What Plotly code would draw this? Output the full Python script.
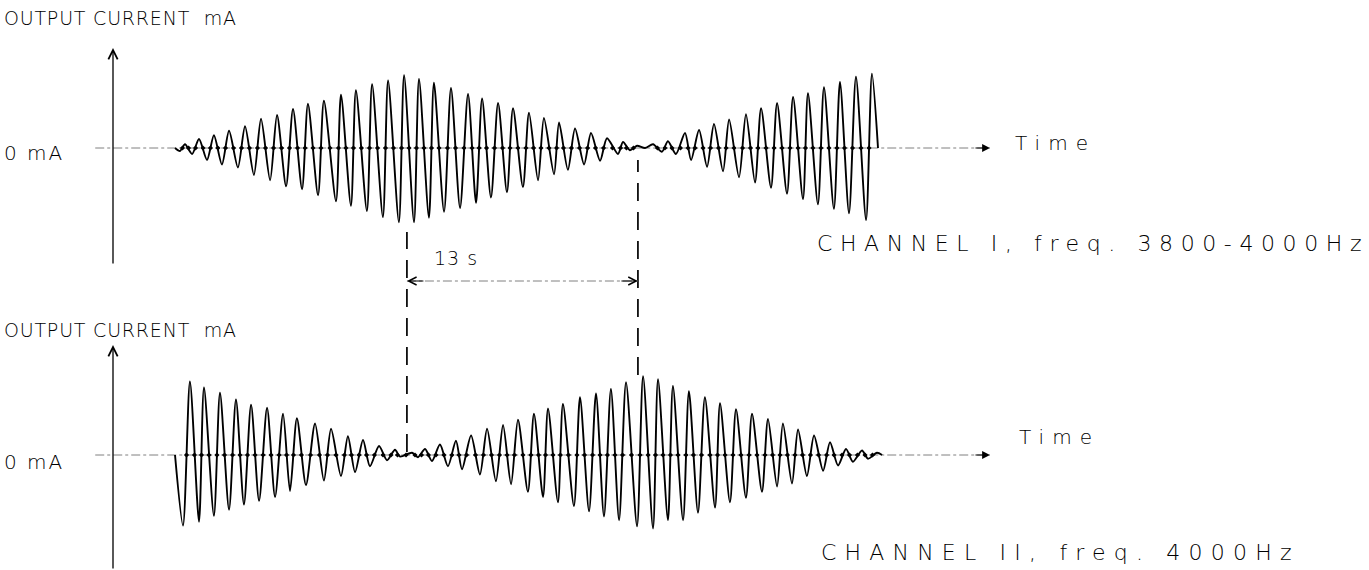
import plotly.graph_objects as go

# ---------------- data ----------------
# time in seconds measured from the vertical axis, current in mA (extremes of each half-wave)
top_t = [3.49, 3.77, 4.05, 4.45, 4.84, 5.29, 5.68, 6.13, 6.53, 7.03, 7.43, 7.93, 8.33, 8.84,
         9.23, 9.74, 10.13, 10.64, 10.97, 11.54, 11.87, 12.55, 12.83, 13.39, 13.67, 14.29,
         14.58, 15.19, 15.48, 16.09, 16.38, 16.94, 17.22, 17.78, 18.06, 18.63, 19.02, 19.53,
         19.98, 20.43, 20.77, 21.27, 21.67, 22.17, 22.51, 23.07, 23.41, 23.92, 24.25, 24.82,
         25.10, 25.60, 26.00, 26.51, 26.90, 27.41, 27.80, 28.42, 28.70, 29.09, 29.49, 29.94,
         30.39, 30.89, 31.23, 31.68, 32.19, 32.53, 32.98, 33.43, 33.82, 34.33, 34.67, 35.23,
         35.62, 36.13, 36.47, 37.03, 37.37, 37.93, 38.27, 38.83, 39.11, 39.67, 40.01, 40.57,
         40.91, 41.42, 41.81, 42.38, 42.71, 43.05]
top_mA = [0, -0.4, 0.5, -0.8, 1.2, -1.6, 1.7, -2.2, 2.3, -2.6, 2.9, -3.6, 3.9, -4.3, 4.4, -5.1,
          5.2, -5.5, 5.9, -6.3, 6.3, -7.1, 7.1, -7.7, 7.7, -8.4, 8.5, -9.2, 9.0, -9.9, 9.7,
          -9.9, 9.2, -9.3, 8.7, -8.5, 8.0, -8.0, 7.2, -7.3, 6.6, -6.6, 6.0, -5.9, 5.3, -5.2,
          4.7, -4.3, 4.0, -3.5, 3.4, -2.9, 2.6, -2.2, 2.0, -1.7, 1.3, -0.8, 0.8, -0.3, 0.3, 0,
          0.5, -0.5, 0.9, -0.8, 2.0, -1.6, 2.4, -2.5, 3.2, -3.1, 3.8, -3.9, 4.5, -4.6, 5.3,
          -5.3, 6.0, -6.1, 6.8, -6.8, 7.3, -7.5, 8.1, -8.1, 8.8, -8.7, 9.5, -9.6, 9.9, 0]

bot_t = [3.49, 3.94, 4.33, 4.84, 5.12, 5.68, 6.02, 6.53, 6.92, 7.37, 7.77, 8.22, 8.67, 9.12,
         9.57, 9.96, 10.35, 10.86, 11.37, 11.87, 12.27, 12.83, 13.22, 13.62, 14.07, 14.46,
         14.97, 15.42, 15.87, 16.15, 16.83, 17.16, 17.56, 17.95, 18.40, 18.85, 19.30, 19.64,
         20.15, 20.65, 21.05, 21.55, 21.95, 22.40, 22.79, 23.35, 23.69, 24.20, 24.48, 25.04,
         25.32, 25.94, 26.28, 26.79, 27.18, 27.63, 28.02, 28.48, 28.87, 29.49, 29.83, 30.39,
         30.67, 31.23, 31.51, 32.08, 32.41, 32.92, 33.31, 33.88, 34.16, 34.72, 35.06, 35.62,
         35.96, 36.52, 36.86, 37.37, 37.70, 38.21, 38.55, 39.05, 39.45, 39.96, 40.35, 40.80,
         41.25, 41.64, 42.15, 42.49, 42.99, 43.28]
bot_mA = [0, -9.4, 9.8, -8.9, 9.0, -8.1, 8.3, -7.3, 7.4, -6.6, 6.7, -6.1, 6.3, -5.6, 5.5, -4.8,
          4.9, -4.0, 4.2, -3.4, 3.5, -2.8, 2.5, -2.3, 2.0, -1.5, 1.2, -0.7, 0.7, -0.2, 0.3,
          -0.3, 0.8, -0.8, 1.4, -1.5, 1.9, -1.9, 2.6, -2.6, 3.5, -3.5, 4.0, -3.9, 4.7, -4.9,
          5.5, -5.6, 6.2, -6.3, 6.8, -6.8, 7.7, -7.5, 8.2, -8.2, 8.8, -8.7, 9.7, -9.5, 10.5,
          -9.8, 10.1, -8.7, 9.2, -8.7, 8.5, -7.7, 7.7, -7.0, 6.9, -6.3, 6.1, -5.7, 5.5, -4.9,
          4.8, -4.2, 4.2, -3.8, 3.4, -2.8, 2.6, -2.1, 1.7, -1.4, 0.8, -0.9, 0.6, -0.5, 0.3, 0]

beat_mark_s = 16.54      # left dashed marker (node of channel II)
beat_period_s = 13       # "13 s"
baseline_span = [-1.0, 49.35]

axis_title = "OUTPUT CURRENT  mA"
zero_label = "0 mA"
time_label = "Time"
top_caption = "CHANNEL I, freq. 3800-4000Hz"
bot_caption = "CHANNEL II, freq. 4000Hz"
period_label = "13 s"

# ---------------- figure ----------------
W, H = 1369, 570
INK = "#000000"
FONT = "DejaVu Sans"


def py(px):
    return 1 - px / H


def px_x(px):
    return px / W


def crossings(t, v):
    out = []
    for i in range(len(t) - 1):
        if v[i] * v[i + 1] < 0:
            out.append((t[i] + t[i + 1]) / 2)
    return out


fig = go.Figure()

for ya, t, v in (("y", top_t, top_mA), ("y2", bot_t, bot_mA)):
    fig.add_trace(go.Scatter(x=baseline_span, y=[0, 0], yaxis=ya, mode="lines",
                             line=dict(color="#808080", width=1, dash="dashdot"),
                             hoverinfo="skip", showlegend=False))
    fig.add_trace(go.Scatter(x=t, y=v, yaxis=ya, mode="lines",
                             line=dict(color=INK, width=1.9, shape="spline", smoothing=0.75),
                             showlegend=False))
    cx = crossings(t, v)
    fig.add_trace(go.Scatter(x=cx, y=[0] * len(cx), yaxis=ya, mode="markers",
                             marker=dict(symbol="diamond", size=4, color=INK),
                             hoverinfo="skip", showlegend=False))

annotations = []


def label(text, xpx, ypx, size, spacing, weight=200):
    annotations.append(dict(
        text=f'<span style="letter-spacing:{spacing}px">{text}</span>',
        x=px_x(xpx), y=py(ypx), xref="paper", yref="paper", xanchor="left",
        yanchor="middle", showarrow=False, align="left",
        font=dict(family=FONT, size=size, color=INK, weight=weight)))


label(axis_title, 2, 18, 19, 0.8)
label(axis_title, 2, 330, 19, 0.8)
label(zero_label, 2, 153, 20, 2)
label(zero_label, 2, 462, 20, 2)
label(time_label, 1013, 143, 20, 8)
label(time_label, 1017, 437, 20, 8)
label(top_caption, 815, 243, 22, 7.6)
label(bot_caption, 819, 552, 22, 8.2)
label(period_label, 432, 258, 19, 1)

# vertical current axes with arrow heads
for tip, length in ((48, 217), (345, 225)):
    annotations.append(dict(x=0, y=py(tip), xref="x", yref="paper", ax=0, ay=length,
                            showarrow=True, arrowhead=5, arrowsize=1.4, arrowwidth=1.3,
                            arrowcolor=INK, text=""))
# time arrows
for ya in ("y", "y2"):
    annotations.append(dict(x=baseline_span[1], y=0, xref="x", yref=ya, ax=-16, ay=0,
                            showarrow=True, arrowhead=2, arrowsize=1.3, arrowwidth=1.2,
                            arrowcolor=INK, text=""))
# 13 s dimension arrows
dim_y = py(281)
annotations.append(dict(x=beat_mark_s, y=dim_y, xref="x", yref="paper", ax=18, ay=0,
                        showarrow=True, arrowhead=5, arrowsize=1.3, arrowwidth=1.2,
                        arrowcolor=INK, text=""))
annotations.append(dict(x=beat_mark_s + beat_period_s, y=dim_y, xref="x", yref="paper",
                        ax=-18, ay=0, showarrow=True, arrowhead=5, arrowsize=1.3,
                        arrowwidth=1.2, arrowcolor=INK, text=""))

shapes = [
    dict(type="line", xref="x", yref="paper", x0=beat_mark_s, x1=beat_mark_s,
         y0=py(452), y1=py(232), line=dict(color=INK, width=1.7, dash="18px,11px")),
    dict(type="line", xref="x", yref="paper", x0=beat_mark_s + beat_period_s,
         x1=beat_mark_s + beat_period_s, y0=py(375), y1=py(160),
         line=dict(color=INK, width=1.7, dash="18px,11px")),
    dict(type="line", xref="x", yref="paper", x0=beat_mark_s, x1=beat_mark_s + beat_period_s,
         y0=dim_y, y1=dim_y, line=dict(color="#808080", width=1, dash="dashdot")),
]

fig.update_layout(
    width=W, height=H, autosize=False,
    margin=dict(l=0, r=0, t=0, b=0),
    paper_bgcolor="white", plot_bgcolor="rgba(0,0,0,0)",
    showlegend=False,
    xaxis=dict(range=[-113 / 17.77, (W - 113) / 17.77], domain=[0, 1], visible=False,
               anchor="y", fixedrange=True),
    yaxis=dict(domain=[py(270), py(40)], range=[-(270 - 148) / 7.5, (148 - 40) / 7.5],
               visible=False, fixedrange=True),
    yaxis2=dict(domain=[0, py(360)], range=[-(570 - 455) / 7.5, (455 - 360) / 7.5],
                visible=False, anchor="x", fixedrange=True),
    annotations=annotations,
    shapes=shapes,
)

fig.write_html("out.html", config={"displayModeBar": False, "responsive": False},
               post_script="document.body.style.margin='0';"
                           "document.body.style.overflow='hidden';")
